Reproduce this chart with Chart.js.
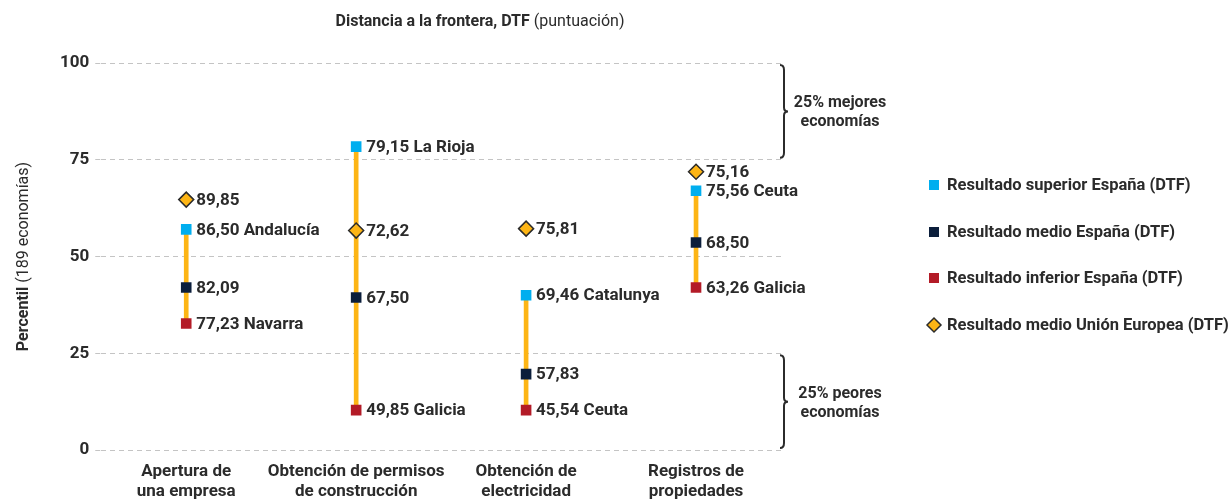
<!DOCTYPE html>
<html>
<head>
<meta charset="utf-8">
<script src="https://cdn.jsdelivr.net/npm/chart.js@4.4.1/dist/chart.umd.min.js"></script>
<style>
  html, body { margin: 0; padding: 0; background: #fff; }
  #wrap { width: 1232px; height: 502px; }
</style>
</head>
<body>
<div id="wrap"><canvas id="myChart_dtf"></canvas></div>
<script>
// categorias del eje x (dos lineas)
const categorias = [
  ['Apertura de', 'una empresa'],
  ['Obtención de permisos', 'de construcción'],
  ['Obtención de', 'electricidad'],
  ['Registros de', 'propiedades']
];

// percentil (eje y) de cada resultado
const superior_pct = [57.0, 78.4, 40.0, 67.0];
const medio_pct    = [42.0, 39.4, 19.6, 53.6];
const inferior_pct = [32.7, 10.3, 10.3, 42.0];
const ue_pct       = [64.7, 56.7, 57.2, 71.9];

// puntuacion DTF que se escribe al lado de cada punto
const superior_txt = ['86,50 Andalucía', '79,15 La Rioja', '69,46 Catalunya', '75,56 Ceuta'];
const medio_txt    = ['82,09', '67,50', '57,83', '68,50'];
const inferior_txt = ['77,23 Navarra', '49,85 Galicia', '45,54 Ceuta', '63,26 Galicia'];
const ue_txt       = ['89,85', '72,62', '75,81', '75,16'];

const y_ticks = [0, 25, 50, 75, 100];

const FONT = 'Roboto';
const TXT = '#2b2b2b';

// rango inferior-superior para la barra amarilla
let rango = [];
inferior_pct.forEach((v, i) => {
  rango.push([v, superior_pct[i]]);
});

// texto con una parte en negrita y otra normal
function texto_mixto(ctx, negrita, normal, x, y, size) {
  ctx.font = 'bold ' + size + 'px ' + FONT;
  const w1 = ctx.measureText(negrita).width;
  ctx.font = size + 'px ' + FONT;
  const w2 = ctx.measureText(normal).width;
  const x0 = x - (w1 + w2) / 2;
  ctx.textAlign = 'left';
  ctx.font = 'bold ' + size + 'px ' + FONT;
  ctx.fillText(negrita, x0, y);
  ctx.font = size + 'px ' + FONT;
  ctx.fillText(normal, x0 + w1, y);
}

// etiquetas, titulos, llaves y leyenda
const etiquetas_plugin = {
  id: 'etiquetas',
  afterDatasetsDraw(chart) {
    const ctx = chart.ctx;
    const textos = { 1: superior_txt, 2: medio_txt, 3: inferior_txt, 4: ue_txt };
    ctx.save();
    ctx.fillStyle = TXT;
    ctx.font = 'bold 17px ' + FONT;
    ctx.textBaseline = 'middle';
    ctx.textAlign = 'left';
    Object.keys(textos).forEach(k => {
      const meta = chart.getDatasetMeta(Number(k));
      meta.data.forEach((pt, i) => {
        ctx.fillText(textos[k][i], pt.x + 10, pt.y + 1);
      });
    });
    ctx.restore();
  },
  afterDraw(chart) {
    const ctx = chart.ctx;
    const area = chart.chartArea;
    const y = chart.scales.y;
    ctx.save();
    ctx.fillStyle = TXT;
    ctx.textBaseline = 'middle';

    // titulo
    texto_mixto(ctx, 'Distancia a la frontera, DTF ', '(puntuación)', 480, 22, 16);

    // titulo eje y
    ctx.save();
    ctx.translate(24, (area.top + area.bottom) / 2);
    ctx.rotate(-Math.PI / 2);
    texto_mixto(ctx, 'Percentil ', '(189 economías)', 0, 0, 16);
    ctx.restore();

    // llaves de cuartiles
    const bx = area.right + 3;
    const llave = (top, bot) => {
      const mid = (top + bot) / 2;
      ctx.beginPath();
      ctx.moveTo(bx - 4, top);
      ctx.quadraticCurveTo(bx, top, bx, top + 5);
      ctx.lineTo(bx, mid - 4);
      ctx.quadraticCurveTo(bx, mid, bx + 4, mid);
      ctx.quadraticCurveTo(bx, mid, bx, mid + 4);
      ctx.lineTo(bx, bot - 5);
      ctx.quadraticCurveTo(bx, bot, bx - 4, bot);
      ctx.strokeStyle = TXT;
      ctx.lineWidth = 2;
      ctx.stroke();
    };
    llave(y.getPixelForValue(100) + 2, y.getPixelForValue(75) - 2);
    llave(y.getPixelForValue(25) + 2, y.getPixelForValue(0) - 2);

    ctx.font = 'bold 16px ' + FONT;
    ctx.textAlign = 'center';
    const cx = bx + 56;
    let m = (y.getPixelForValue(100) + y.getPixelForValue(75)) / 2;
    ctx.fillText('25% mejores', cx, m - 8);
    ctx.fillText('economías', cx, m + 11);
    m = (y.getPixelForValue(25) + y.getPixelForValue(0)) / 2;
    ctx.fillText('25% peores', cx, m - 8);
    ctx.fillText('economías', cx, m + 11);

    // leyenda
    ctx.textAlign = 'left';
    ctx.font = 'bold 16.5px ' + FONT;
    const lx = 934;
    const ly = [185, 232, 278, 325];
    [1, 2, 3, 4].forEach((k, i) => {
      const ds = chart.data.datasets[k];
      ctx.fillStyle = ds.pointBackgroundColor;
      if (ds.pointStyle === 'rectRot') {
        ctx.beginPath();
        ctx.moveTo(lx - 7, ly[i]);
        ctx.lineTo(lx, ly[i] - 7);
        ctx.lineTo(lx + 7, ly[i]);
        ctx.lineTo(lx, ly[i] + 7);
        ctx.closePath();
        ctx.fill();
        ctx.lineWidth = 1.5;
        ctx.strokeStyle = ds.pointBorderColor;
        ctx.stroke();
      } else {
        ctx.fillRect(lx - 5, ly[i] - 5, 10, 10);
      }
      ctx.fillStyle = TXT;
      ctx.fillText(ds.label, lx + 13, ly[i] + 1);
    });
    ctx.restore();
  }
};

function dtf_chart() {
  let element = document.querySelector('#myChart_dtf').getContext('2d');
  let chart_output = new Chart(element, {
    type: 'bar',
    data: {
      labels: categorias,
      datasets: [
        {
          label: 'rango',
          data: rango,
          backgroundColor: '#FDB515',
          barThickness: 4,
          order: 10
        },
        {
          type: 'line', label: 'Resultado superior España (DTF)', data: superior_pct,
          showLine: false, pointStyle: 'rect', pointRadius: 7.5,
          pointBackgroundColor: '#00AEEF', pointBorderColor: '#00AEEF', pointBorderWidth: 0,
          backgroundColor: '#00AEEF', borderColor: '#00AEEF', order: 0
        },
        {
          type: 'line', label: 'Resultado medio España (DTF)', data: medio_pct,
          showLine: false, pointStyle: 'rect', pointRadius: 7.5,
          pointBackgroundColor: '#0B1E3B', pointBorderColor: '#0B1E3B', pointBorderWidth: 0,
          backgroundColor: '#0B1E3B', borderColor: '#0B1E3B', order: 0
        },
        {
          type: 'line', label: 'Resultado inferior España (DTF)', data: inferior_pct,
          showLine: false, pointStyle: 'rect', pointRadius: 7.5,
          pointBackgroundColor: '#B31B27', pointBorderColor: '#B31B27', pointBorderWidth: 0,
          backgroundColor: '#B31B27', borderColor: '#B31B27', order: 0
        },
        {
          type: 'line', label: 'Resultado medio Unión Europea (DTF)', data: ue_pct,
          showLine: false, pointStyle: 'rectRot', pointRadius: 7.5,
          pointBackgroundColor: '#FDB515', pointBorderColor: '#2b2b2b', pointBorderWidth: 1.5,
          backgroundColor: '#FDB515', borderColor: '#2b2b2b', order: 0
        }
      ]
    },
    options: {
      responsive: true,
      maintainAspectRatio: false,
      animation: false,
      layout: { padding: { left: 54, top: 63, bottom: 0, right: 451 } },
      plugins: {
        title: { display: false },
        tooltip: { enabled: false },
        legend: { display: false }
      },
      scales: {
        x: {
          grid: { display: false },
          border: { display: false },
          ticks: { color: TXT, font: { family: FONT, size: 17, weight: 'bold', lineHeight: 1.18 }, maxRotation: 0, autoSkip: false, padding: 4 },
          afterFit: s => { s.height = 52; }
        },
        y: {
          min: 0, max: 100,
          afterBuildTicks: s => { s.ticks = y_ticks.map(v => ({ value: v })); },
          grid: { color: '#c4c4c4', tickLength: 6, tickBorderDash: [5, 4], tickColor: '#c4c4c4' },
          border: { display: false, dash: [5, 4] },
          ticks: { color: TXT, font: { family: FONT, size: 17, weight: 'bold' }, padding: 6 }
        }
      }
    },
    plugins: [etiquetas_plugin]
  });
}

dtf_chart();
</script>
</body>
</html>
